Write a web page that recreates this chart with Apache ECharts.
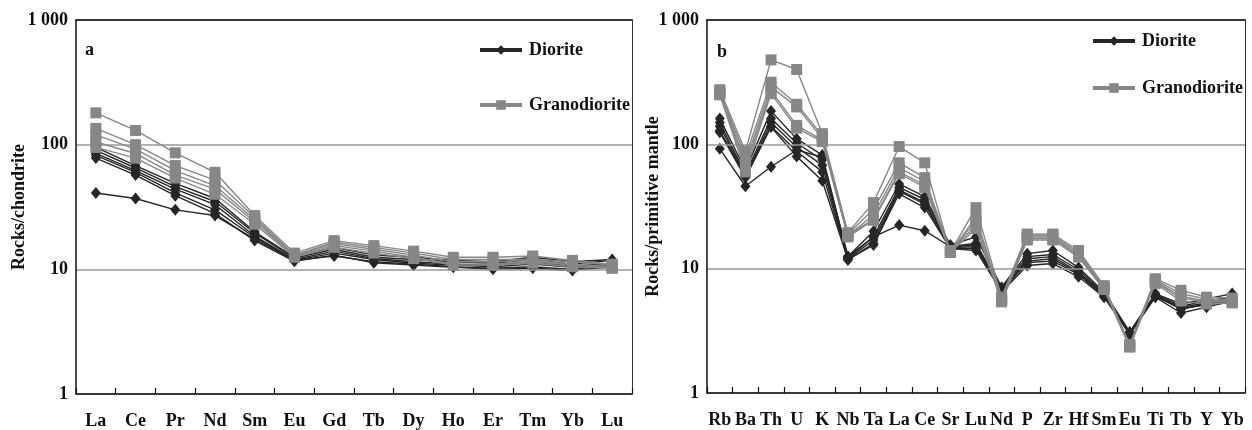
<!DOCTYPE html>
<html>
<head>
<meta charset="utf-8">
<script src="https://cdn.jsdelivr.net/npm/echarts@6/dist/echarts.min.js"></script>
<style>
html,body{margin:0;padding:0;background:#fff;}
#chart{width:1252px;height:430px;}
</style>
</head>
<body>
<div id="chart"></div>
<script>
// ---------- DATA ----------
const reeCats = ['La','Ce','Pr','Nd','Sm','Eu','Gd','Tb','Dy','Ho','Er','Tm','Yb','Lu'];
const spiderCats = ['Rb','Ba','Th','U','K','Nb','Ta','La','Ce','Sr','Lu','Nd','P','Zr','Hf','Sm','Eu','Ti','Tb','Y','Yb'];
const yTickLabels = {1:'1', 10:'10', 100:'100', 1000:'1 000'};
const legendNames = ['Diorite','Granodiorite'];
const panelLabels = ['a','b'];
const yNames = ['Rocks/chondrite','Rocks/primitive mantle'];

// Chondrite-normalised REE
const reeDiorite1 = [95, 68, 49, 37, 20, 12.5, 15, 13, 12.5, 11.8, 11.5, 12.5, 11.5, 12];
const reeDiorite2 = [90, 65, 46, 35, 19.5, 12.3, 14.5, 12.5, 12, 11.5, 11.2, 12, 11, 11.8];
const reeDiorite3 = [85, 62, 44, 33, 18.5, 12, 14, 12.2, 11.5, 11, 10.8, 11.5, 10.6, 11.2];
const reeDiorite4 = [82, 60, 41, 30, 18, 11.8, 13.5, 12, 11.2, 10.8, 10.5, 11, 10.4, 11];
const reeDiorite5 = [78, 57, 39, 28, 17, 11.6, 13, 11.3, 10.8, 10.4, 10.2, 10.5, 10, 10.8];
const reeDiorite6 = [41, 37, 30, 27, 17.5, 11.8, 12.8, 11.5, 11, 10.5, 10, 10.2, 9.8, 10.5];
const reeGrano1 = [180, 130, 86, 60, 27, 13.5, 17, 15.5, 14, 12.5, 12.5, 12.8, 11.8, 11];
const reeGrano2 = [135, 100, 68, 52, 26, 13, 16.5, 15, 13.5, 12, 12, 12, 11.5, 10.8];
const reeGrano3 = [120, 92, 62, 47, 25, 13, 16, 14.5, 13, 11.5, 11.5, 11.8, 11, 10.5];
const reeGrano4 = [105, 85, 57, 44, 24, 12.8, 15.5, 14, 12.5, 11, 11, 11.5, 10.8, 10.3];
const reeGrano5 = [95, 78, 54, 40, 23, 12.5, 15, 13.5, 12.2, 10.8, 10.8, 11.2, 10.5, 10.2];

// Primitive-mantle-normalised trace elements
const spDiorite1 = [161, 62, 185, 111, 82, 12.5, 20, 48, 38, 15.5, 18, 7.1, 13.2, 14, 10.2, 6.5, 3.1, 6.3, 5.2, 5.7, 6.3];
const spDiorite2 = [150, 58, 161, 102, 75, 12.2, 18, 45, 36, 15, 16, 6.9, 12.5, 13, 9.8, 6.3, 3.05, 6.2, 5.0, 5.5, 5.9];
const spDiorite3 = [140, 56, 150, 95, 68, 12, 17, 43, 34, 14.8, 15, 6.7, 12, 12.5, 9.4, 6.2, 3.0, 6.1, 4.9, 5.3, 5.7];
const spDiorite4 = [129, 55, 140, 88, 60, 11.8, 16, 42, 33, 14.5, 14.5, 6.6, 11.2, 11.5, 9, 6.0, 3.0, 6.0, 4.8, 5.1, 5.6];
const spDiorite5 = [125, 54, 138, 80, 51, 11.8, 15.5, 40, 31, 14.5, 14, 6.5, 10.6, 11, 8.6, 5.9, 2.95, 5.9, 4.4, 4.9, 5.5];
const spDiorite6 = [92, 46, 66, 90, 79, 12.5, 18, 22.4, 20.2, 15, 15.5, 6.8, 11.5, 12, 9.2, 6.1, 3.05, 6.1, 4.7, 5.2, 5.8];
const spGrano1 = [275, 88, 478, 400, 122, 19.5, 34, 96, 71, 13.5, 31, 5.9, 19, 19, 14, 7.3, 2.45, 8.3, 6.7, 5.9, 5.8];
const spGrano2 = [265, 80, 316, 210, 118, 19, 30, 71, 54, 13.6, 26, 5.7, 18.5, 18.5, 13.5, 7.1, 2.4, 8.1, 6.3, 5.7, 5.6];
const spGrano3 = [260, 72, 290, 200, 112, 18.5, 27, 65, 50, 13.8, 24, 5.6, 18, 18, 13, 7.0, 2.4, 7.9, 6.0, 5.5, 5.5];
const spGrano4 = [255, 66, 270, 142, 108, 18.5, 25, 60, 47, 14, 22, 5.5, 17.5, 17.5, 12.7, 6.9, 2.35, 7.8, 5.8, 5.4, 5.4];
const spGrano5 = [250, 60, 256, 135, 105, 18, 24.5, 58, 45, 13.5, 21, 5.4, 17, 17, 12.4, 6.8, 2.35, 7.6, 5.5, 5.2, 5.3];

const reeDiorite = [reeDiorite1, reeDiorite2, reeDiorite3, reeDiorite4, reeDiorite5, reeDiorite6];
const reeGrano = [reeGrano1, reeGrano2, reeGrano3, reeGrano4, reeGrano5];
const spDiorite = [spDiorite1, spDiorite2, spDiorite3, spDiorite4, spDiorite5, spDiorite6];
const spGrano = [spGrano1, spGrano2, spGrano3, spGrano4, spGrano5];

// ---------- STYLE ----------
const FONT = "'Liberation Serif','Times New Roman','DejaVu Serif',serif";
const DARK = '#262626';
const GRAY = '#878787';

function mkSeries(arr, name, gi, isDiorite) {
  return arr.map(d => ({
    type: 'line',
    name: name,
    xAxisIndex: gi * 2,
    yAxisIndex: gi * 2,
    data: d,
    symbol: isDiorite ? 'diamond' : 'rect',
    symbolSize: isDiorite ? [10, 12] : 11,
    lineStyle: { color: isDiorite ? DARK : GRAY, width: 1.4 },
    itemStyle: { color: isDiorite ? DARK : GRAY },
    z: isDiorite ? 3 : 4,
    silent: true
  }));
}

const grids = [
  { left: 76, top: 20, width: 556, height: 374 },
  { left: 707, top: 20, width: 538, height: 373 }
];

const xAxes = [];
const yAxes = [];
[reeCats, spiderCats].forEach((cats, gi) => {
  xAxes.push({
    type: 'category', gridIndex: gi, data: cats, boundaryGap: true,
    axisLine: { lineStyle: { color: '#111', width: 1.5 } },
    axisTick: { show: true, inside: true, length: 6, lineStyle: { color: '#111', width: 1.2 } },
    axisLabel: { interval: 0, margin: 18, color: '#111', fontFamily: FONT, fontSize: 18, fontWeight: 'bold', hideOverlap: false },
    splitLine: { show: false },
    z: 5
  });
  xAxes.push({
    type: 'category', gridIndex: gi, data: cats, position: 'top',
    axisLine: { lineStyle: { color: '#111', width: 1.5 } },
    axisTick: { show: false }, axisLabel: { show: false }, splitLine: { show: false },
    z: 5
  });
  yAxes.push({
    type: 'log', logBase: 10, gridIndex: gi, min: 1, max: 1000,
    name: yNames[gi], nameLocation: 'middle', nameGap: gi === 0 ? 48 : 45,
    nameMoveOverlap: false,
    nameTextStyle: { fontFamily: FONT, fontSize: 18, fontWeight: 'bold', color: '#111' },
    axisLine: { show: true, lineStyle: { color: '#111', width: 1.5 } },
    axisTick: { show: false },
    axisLabel: { margin: 8, color: '#111', fontFamily: FONT, fontSize: 18, fontWeight: 'bold',
      formatter: v => yTickLabels[Math.round(v)] || '' },
    splitLine: { show: true, lineStyle: { color: '#999', width: 1.5 } },
    z: 4
  });
  yAxes.push({
    type: 'value', gridIndex: gi, position: 'right', min: 0, max: 1,
    axisLine: { show: true, lineStyle: { color: '#333', width: 1 } },
    axisTick: { show: false }, axisLabel: { show: false }, splitLine: { show: false }
  });
});

const series = [
  ...mkSeries(reeDiorite, legendNames[0], 0, true),
  ...mkSeries(reeGrano, legendNames[1], 0, false),
  ...mkSeries(spDiorite, legendNames[0], 1, true),
  ...mkSeries(spGrano, legendNames[1], 1, false)
];

const legendCommon = {
  orient: 'vertical', data: legendNames, itemWidth: 42, itemHeight: 12,
  padding: 0, selectedMode: false,
  textStyle: { fontFamily: FONT, fontSize: 18, fontWeight: 'bold', color: '#111', padding: [0,0,0,2] },
  lineStyle: { width: 4 }
};

const option = {
  animation: false,
  backgroundColor: '#fff',
  title: [
    { text: panelLabels[0], left: 85, top: 41, padding: 0, textStyle: { fontFamily: FONT, fontSize: 18, fontWeight: 'bold', color: '#111' } },
    { text: panelLabels[1], left: 717, top: 43, padding: 0, textStyle: { fontFamily: FONT, fontSize: 18, fontWeight: 'bold', color: '#111' } }
  ],
  legend: [
    Object.assign({}, legendCommon, { left: 478, top: 41, itemGap: 37 }),
    Object.assign({}, legendCommon, { left: 1091, top: 32, itemGap: 29 })
  ],
  grid: grids,
  xAxis: xAxes,
  yAxis: yAxes,
  series: series
};

const chart = echarts.init(document.getElementById('chart'), null, { renderer: 'canvas' });
chart.setOption(option);
</script>
</body>
</html>
